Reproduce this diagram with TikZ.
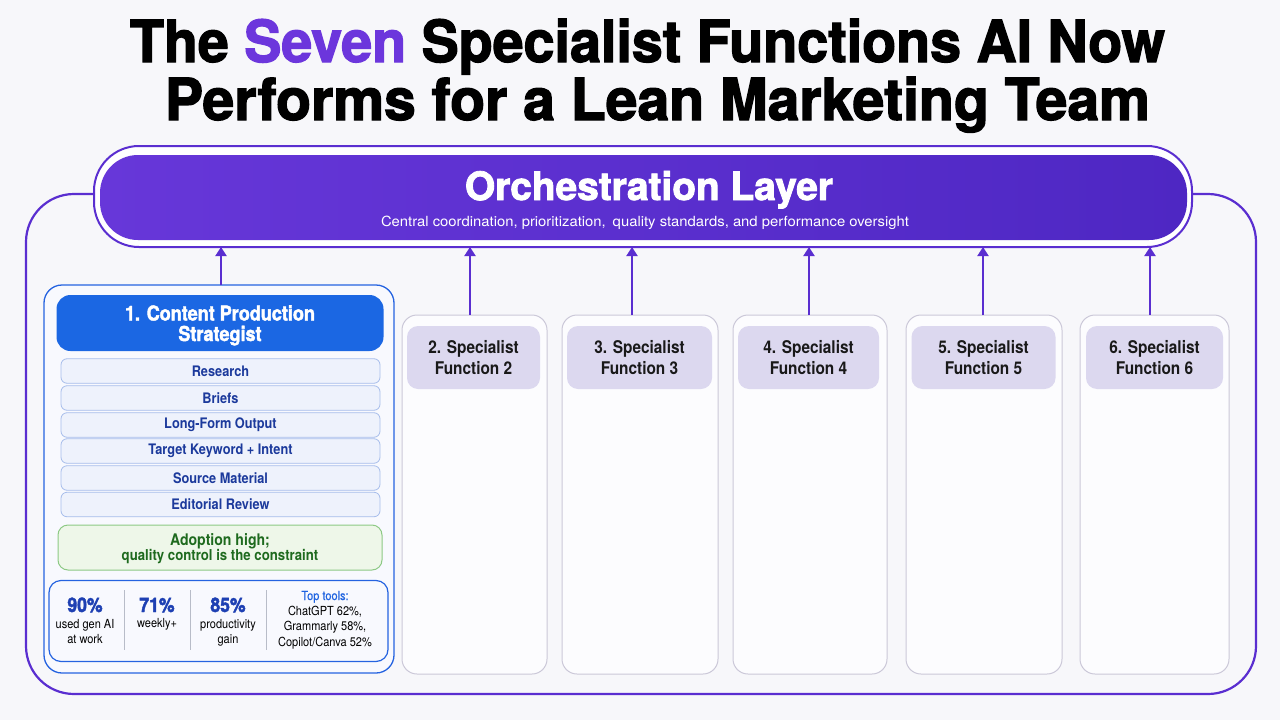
\documentclass[tikz,border=0pt]{standalone}
\usepackage{fontspec}
\usepackage{graphicx}
\usetikzlibrary{arrows.meta}
\setmainfont{TeX Gyre Heros}[FakeStretch=0.88]
\newfontfamily\heavy{TeX Gyre Heros}[FakeStretch=0.88, BoldFeatures={FakeBold=2}]
\newfontfamily\medium{TeX Gyre Heros}[FakeStretch=0.88, FakeBold=0.6]
\definecolor{bgc}{HTML}{F7F7FA}
\definecolor{framec}{HTML}{5A2ED0}
\definecolor{orchL}{HTML}{6737D9}
\definecolor{orchR}{HTML}{4E27C3}
\definecolor{seven}{HTML}{6C36DC}
\definecolor{bluebd}{HTML}{2563E0}
\definecolor{bluehd}{HTML}{1B67E3}
\definecolor{itemfill}{HTML}{EEF2FC}
\definecolor{itemdraw}{HTML}{A7BDEB}
\definecolor{itemtext}{HTML}{1C3A9C}
\definecolor{greenfill}{HTML}{EEF7E9}
\definecolor{greendraw}{HTML}{8DC985}
\definecolor{greentext}{HTML}{1E6A1E}
\definecolor{statblue}{HTML}{1E40B3}
\definecolor{tooltext}{HTML}{1E63E0}
\definecolor{sepc}{HTML}{B8BCC8}
\definecolor{colgray}{HTML}{CBC8D8}
\definecolor{colfill}{HTML}{FCFCFE}
\definecolor{hdrfill}{HTML}{DCD8EF}
\definecolor{col1fill}{HTML}{F8F9FE}
\tikzset{
  box/.style={rectangle, inner sep=0pt, outer sep=0pt},
  frame/.style={box, draw=framec, line width=2.2pt, rounded corners=48pt},
  orchout/.style={box, draw=framec, line width=2pt, fill=white, rounded corners=45pt},
  orchin/.style={box, left color=orchL, right color=orchR, rounded corners=38pt},
  colone/.style={box, draw=bluebd, line width=1.3pt, fill=col1fill, rounded corners=18pt},
  colhead/.style={box, fill=bluehd, rounded corners=14pt},
  colheadtxt/.style={txt, text=white, align=center,
    font=\heavy\bfseries\fontsize{20.5}{20.5}\selectfont},
  item/.style={box, draw=itemdraw, line width=0.8pt, fill=itemfill, rounded corners=6pt,
    text=itemtext, font=\bfseries\fontsize{14.5}{15}\selectfont},
  greenbox/.style={box, draw=greendraw, line width=1pt, fill=greenfill, rounded corners=10pt},
  statbox/.style={box, draw=bluebd, line width=1.2pt, fill=col1fill, rounded corners=12pt},
  colother/.style={box, draw=colgray, line width=1pt, fill=colfill, rounded corners=15pt},
  hdr/.style={box, fill=hdrfill, rounded corners=11pt, align=center, text=black!90,
    font=\bfseries\fontsize{17.5}{21}\selectfont},
  arr/.style={draw=framec, line width=2pt, -{Triangle[width=11pt,length=9pt]}},
  sepline/.style={draw=sepc, line width=1pt},
  txt/.style={inner sep=0pt, outer sep=0pt},
}
\begin{document}
\begin{tikzpicture}[x=1pt,y=-1pt]
\fill[bgc] (0,0) rectangle (1280,720);
\useasboundingbox (0,0) rectangle (1280,720);

% title
\node[txt, anchor=base] (t1) at (647.5,62) {\resizebox{1035pt}{\height}{\heavy\bfseries\fontsize{58}{60}\selectfont The \textcolor{seven}{Seven} Specialist Functions AI Now}};
\node[txt, anchor=base] (t2) at (657.5,120) {\resizebox{985pt}{\height}{\heavy\bfseries\fontsize{58}{60}\selectfont Performs for a Lean Marketing Team}};

% outer frame
\node[frame, minimum width=1230pt, minimum height=500pt] (fr) at (641,444) {};

% orchestration layer
\node[orchout, minimum width=1098pt, minimum height=101pt] (orch) at (643,196.5) {};
\node[orchin, minimum width=1087pt, minimum height=85pt] (orchi) at (643.5,197.5) {};
\node[txt, anchor=base, text=white] (ot) at (649,200) {\resizebox{368pt}{\height}{\heavy\bfseries\fontsize{39}{40}\selectfont Orchestration Layer}};
\node[txt, anchor=base, text=white] (os) at (645,226) {\resizebox{528pt}{\height}{\fontsize{14}{15}\selectfont Central coordination, prioritization,\, quality standards, and performance oversight}};

% column 1
\node[colone, minimum width=350pt, minimum height=388pt] (c1) at (219,479) {};
\node[colhead, minimum width=327pt, minimum height=56pt] (h1) at (220,323) {};
\node[colheadtxt, anchor=base] (h1t) at (220,341) {1. Content Production\\[0pt]Strategist};
\node[item, minimum width=319pt, minimum height=24.5pt] (i1) at (220.5,371) {Research};
\node[item, minimum width=319pt, minimum height=24.5pt] (i2) at (220.5,398) {Briefs};
\node[item, minimum width=319pt, minimum height=24.5pt] (i3) at (220.5,425) {Long-Form Output};
\node[item, minimum width=319pt, minimum height=24.5pt] (i4) at (220.5,451) {Target Keyword + Intent};
\node[item, minimum width=319pt, minimum height=24.5pt] (i5) at (220.5,478) {Source Material};
\node[item, minimum width=319pt, minimum height=24.5pt] (i6) at (220.5,504.5) {Editorial Review};
\node[greenbox, minimum width=324pt, minimum height=45pt] (g) at (220,547.5) {};
\node[txt, anchor=base, text=greentext, font=\bfseries\fontsize{16}{16}\selectfont] (g1) at (220,545) {Adoption high;};
\node[txt, anchor=base, text=greentext, font=\bfseries\fontsize{15}{15}\selectfont] (g2) at (220,560) {quality control is the constraint};

\node[statbox, minimum width=339pt, minimum height=81pt] (st) at (218.5,621) {};
\draw[sepline] (124,590) -- (124,650);
\draw[sepline] (190,590) -- (190,650);
\draw[sepline] (266,590) -- (266,650);
\node[txt, anchor=base, text=statblue, font=\heavy\bfseries\fontsize{20}{20}\selectfont] (s1) at (85,612) {90\%};
\node[txt, anchor=base, align=center, font=\fontsize{12.5}{15}\selectfont] (s1l) at (85,643) {used gen AI\\at work};
\node[txt, anchor=base, text=statblue, font=\heavy\bfseries\fontsize{20}{20}\selectfont] (s2) at (157,612) {71\%};
\node[txt, anchor=base, font=\fontsize{12.5}{15}\selectfont] (s2l) at (157,627) {weekly+};
\node[txt, anchor=base, text=statblue, font=\heavy\bfseries\fontsize{20}{20}\selectfont] (s3) at (228,612) {85\%};
\node[txt, anchor=base, align=center, font=\fontsize{12.5}{15}\selectfont] (s3l) at (228,643) {productivity\\gain};
\node[txt, anchor=base, text=tooltext, font=\medium\fontsize{12.5}{12.5}\selectfont] (tt) at (325,600) {Top tools:};
\node[txt, anchor=base, align=center, font=\fontsize{12.5}{15.3}\selectfont] (ttl) at (325,646) {ChatGPT 62\%,\\Grammarly 58\%,\\Copilot/Canva 52\%};

% columns 2-6
\node[colother, minimum width=145pt, minimum height=359pt] (c2) at (474.5,494.5) {};
\node[colother, minimum width=156pt, minimum height=359pt] (c3) at (640,494.5) {};
\node[colother, minimum width=154pt, minimum height=359pt] (c4) at (810,494.5) {};
\node[colother, minimum width=156pt, minimum height=359pt] (c5) at (984,494.5) {};
\node[colother, minimum width=149pt, minimum height=359pt] (c6) at (1154.5,494.5) {};
\node[hdr, minimum width=133pt, minimum height=63pt] (h2) at (473.5,357.5) {2. Specialist\\Function 2};
\node[hdr, minimum width=145pt, minimum height=63pt] (h3) at (639.5,357.5) {3. Specialist\\Function 3};
\node[hdr, minimum width=141pt, minimum height=63pt] (h4) at (808.5,357.5) {4. Specialist\\Function 4};
\node[hdr, minimum width=144pt, minimum height=63pt] (h5) at (983.5,357.5) {5. Specialist\\Function 5};
\node[hdr, minimum width=137pt, minimum height=63pt] (h6) at (1154.5,357.5) {6. Specialist\\Function 6};

% arrows
\draw[arr] ([xshift=2pt]c1.north) -- ([xshift=2pt]c1.north |- orch.south);
\draw[arr] ([xshift=-4.5pt]c2.north) -- ([xshift=-4.5pt]c2.north |- orch.south);
\draw[arr] ([xshift=-8pt]c3.north) -- ([xshift=-8pt]c3.north |- orch.south);
\draw[arr] ([xshift=-1pt]c4.north) -- ([xshift=-1pt]c4.north |- orch.south);
\draw[arr] ([xshift=-1pt]c5.north) -- ([xshift=-1pt]c5.north |- orch.south);
\draw[arr] ([xshift=-4.5pt]c6.north) -- ([xshift=-4.5pt]c6.north |- orch.south);
\end{tikzpicture}
\end{document}
